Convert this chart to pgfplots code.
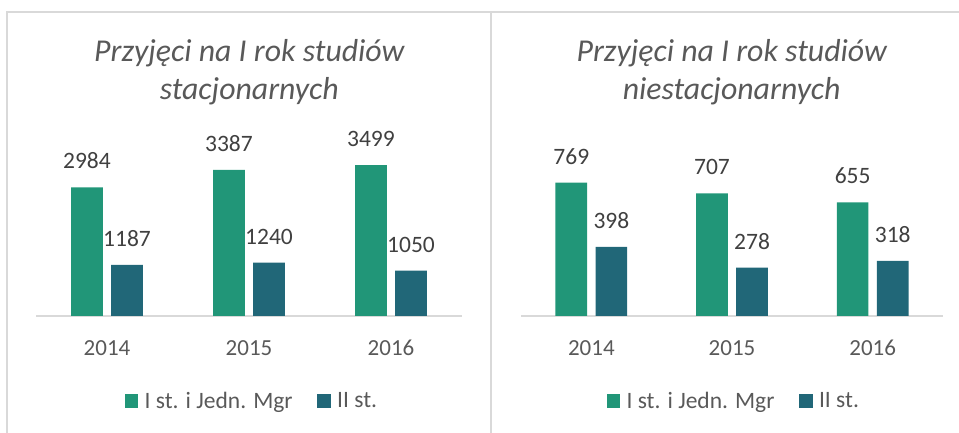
\documentclass[border=0pt]{standalone}
\usepackage{fontspec}
\setmainfont{Carlito}
\usepackage{pgfplots}
\pgfplotsset{compat=1.18}
\definecolor{cgreen}{HTML}{219678}
\definecolor{cteal}{HTML}{216778}
\definecolor{cgrid}{HTML}{D9D9D9}
\definecolor{ctext}{HTML}{595959}
\definecolor{clabel}{HTML}{404040}
\pgfplotsset{
 mybar/.style={
  scale only axis,
  /pgf/number format/assume math mode=true,
  /pgf/number format/1000 sep={},
  xmin=-0.5, xmax=2.5, ymin=0,
  axis x line*=bottom, axis y line=none,
  x axis line style={draw=cgrid, line width=1.5pt, -},
  xtick={0,1,2}, xticklabels={2014,2015,2016},
  major tick length=0pt,
  xticklabel style={font=\fontsize{23}{27}\selectfont, text=ctext, inner sep=0pt, anchor=north, yshift=-24pt},
  ytick=\empty,
  ybar=8.4pt,
  bar width=31.7pt,
  nodes near coords,
  every node near coord/.append style={font=\fontsize{23.5}{27}\selectfont, text=clabel, inner sep=0pt, anchor=south, yshift=18pt},
  clip=false,
  legend columns=2,
  legend style={draw=none, fill=none, inner sep=0pt, font=\fontsize{23.5}{27}\selectfont, text=ctext, anchor=center,
    /tikz/every odd column/.append style={column sep=6.4pt},
    /tikz/every even column/.append style={column sep=24.7pt},
    nodes={inner sep=0pt}},
 }
}
\begin{document}
\begin{tikzpicture}
\useasboundingbox (0pt,0pt) rectangle (959pt,433pt);
\draw[cgrid, line width=1.5pt] (7pt,0pt) -- (7pt,421pt) -- (959pt,421pt);
\draw[cgrid, line width=1.5pt] (491pt,0pt) -- (491pt,421pt);
\begin{axis}[mybar, width=426pt, height=172.5pt, ymax=4000,
  at={(36pt,117pt)}, anchor=south west,
  legend style={at={(0.5047,-0.4928)}}]
\addplot[fill=cgreen, draw=none, legend image code/.code={\fill[cgreen] (0pt,-6.7pt) rectangle (13.4pt,6.7pt);}]
  coordinates {(0,2984) (1,3387) (2,3499)};
\addplot[fill=cteal, draw=none, legend image code/.code={\fill[cteal] (0pt,-6.7pt) rectangle (13.4pt,6.7pt);}]
  coordinates {(0,1187) (1,1240) (2,1050)};
\legend{I st. i Jedn. Mgr, II st.}
\end{axis}
\begin{axis}[mybar, width=422pt, height=156.2pt, ymax=900,
  at={(521pt,117pt)}, anchor=south west,
  legend style={at={(0.502,-0.544)}}]
\addplot[fill=cgreen, draw=none, legend image code/.code={\fill[cgreen] (0pt,-6.7pt) rectangle (13.4pt,6.7pt);}]
  coordinates {(0,769) (1,707) (2,655)};
\addplot[fill=cteal, draw=none, legend image code/.code={\fill[cteal] (0pt,-6.7pt) rectangle (13.4pt,6.7pt);}]
  coordinates {(0,398) (1,278) (2,318)};
\legend{I st. i Jedn. Mgr, II st.}
\end{axis}
\begin{scope}[every node/.style={font=\fontsize{31.8}{36}\selectfont\itshape, text=ctext, anchor=base, inner sep=0pt}]
\node at (249.3pt,371pt) {Przyjęci na I rok studiów};
\node at (249.3pt,333pt) {stacjonarnych};
\node at (731.7pt,371pt) {Przyjęci na I rok studiów};
\node at (731.7pt,333pt) {niestacjonarnych};
\end{scope}
\end{tikzpicture}
\end{document}
